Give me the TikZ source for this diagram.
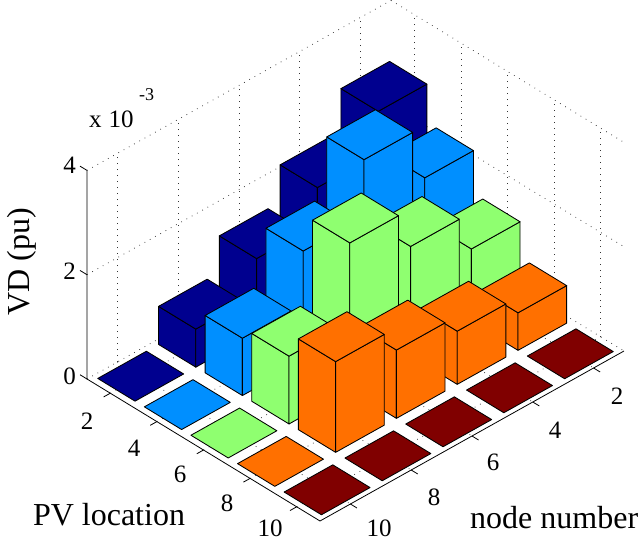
\documentclass[tikz,border=0pt]{standalone}
\usepackage{fontspec}
\setmainfont{Liberation Serif}
\definecolor{cA}{RGB}{0,0,143}
\definecolor{cB}{RGB}{0,143,255}
\definecolor{cC}{RGB}{143,255,112}
\definecolor{cD}{RGB}{255,112,0}
\definecolor{cE}{RGB}{128,0,0}
\tikzset{
  gridline/.style={black!80, line width=0.75pt, dash pattern=on 0.75pt off 5.25pt},
  axisline/.style={black, line width=0.8pt},
  baredge/.style={black, line width=0.85pt, line join=round},
  ticklab/.style={font=\fontsize{25}{28}\selectfont, inner sep=0pt},
  explab/.style={font=\fontsize{18}{20}\selectfont, inner sep=0pt},
  axlab/.style={font=\fontsize{32}{36}\selectfont, inner sep=0pt},
}
\newcommand\drawbar[4]{%
  \pgfmathsetmacro\sa{0.2*#1-0.18}%
  \pgfmathsetmacro\sb{0.2*#1-0.02}%
  \pgfmathsetmacro\ta{1.02-0.2*#2}%
  \pgfmathsetmacro\tb{1.18-0.2*#2}%
  \ifdim #3pt>0pt
    \filldraw[baredge, fill=#4] (\sa,\ta,0) -- (\sb,\ta,0) -- (\sb,\ta,#3) -- (\sa,\ta,#3) -- cycle;
    \filldraw[baredge, fill=#4] (\sb,\ta,0) -- (\sb,\tb,0) -- (\sb,\tb,#3) -- (\sb,\ta,#3) -- cycle;
  \fi
  \filldraw[baredge, fill=#4] (\sa,\ta,#3) -- (\sb,\ta,#3) -- (\sb,\tb,#3) -- (\sa,\tb,#3) -- cycle;
}
\begin{document}
\begin{tikzpicture}[x=1pt,y=-1pt]
\useasboundingbox (0,0) rectangle (638,541);
\begin{scope}[shift={(87pt,-379pt)}, x={(233pt,-142pt)}, y={(304pt,170pt)}, z={(0pt,52.15pt)}]
  % grid lines on floor and back walls
  \foreach \v in {0.1,0.3,0.5,0.7,0.9} {
    \draw[gridline] (\v,0,0) -- (\v,1,0);
    \draw[gridline] (0,\v,0) -- (1,\v,0);
    \draw[gridline] (0,\v,0) -- (0,\v,4);
    \draw[gridline] (\v,1,0) -- (\v,1,4);
  }
  \foreach \h in {0,2,4} {
    \draw[gridline] (0,0,\h) -- (0,1,\h);
    \draw[gridline] (0,1,\h) -- (1,1,\h);
  }
  % bars, back to front
  \drawbar{1}{1}{2.95}{cA}
  \drawbar{1}{2}{2.14}{cA} \drawbar{2}{1}{2.22}{cB}
  \drawbar{1}{3}{1.43}{cA} \drawbar{2}{2}{3.22}{cB} \drawbar{3}{1}{1.40}{cC}
  \drawbar{1}{4}{0.73}{cA} \drawbar{2}{3}{2.12}{cB} \drawbar{3}{2}{2.10}{cC} \drawbar{4}{1}{0.72}{cD}
  \drawbar{1}{5}{0}{cA} \drawbar{2}{4}{1.10}{cB} \drawbar{3}{3}{2.82}{cC} \drawbar{4}{2}{1.02}{cD} \drawbar{5}{1}{0}{cE}
  \drawbar{2}{5}{0}{cB} \drawbar{3}{4}{1.30}{cC} \drawbar{4}{3}{1.31}{cD} \drawbar{5}{2}{0}{cE}
  \drawbar{3}{5}{0}{cC} \drawbar{4}{4}{1.74}{cD} \drawbar{5}{3}{0}{cE}
  \drawbar{4}{5}{0}{cD} \drawbar{5}{4}{0}{cE}
  \drawbar{5}{5}{0}{cE}
  % axes
  \coordinate (ztop) at (0,0,4);
  \coordinate (orig) at (0,0,0);
  \coordinate (front) at (1,0,0);
  \coordinate (right) at (1,1,0);
  \draw[axisline] (ztop) -- (orig) -- (front) -- (right);
  \foreach \h in {0,2,4} \draw[axisline] (0,0,\h) -- (-0.03,0,\h);
  \foreach \v in {0.1,0.3,0.5,0.7,0.9} {
    \draw[axisline] (\v,0,0) -- (\v,-0.022,0);
    \draw[axisline] (1,\v,0) -- (1.028,\v,0);
  }
\end{scope}
% z tick labels
\node[ticklab, anchor=east] (z0) at (76,376) {0};
\node[ticklab, anchor=east] (z2) at (76,271) {2};
\node[ticklab, anchor=east] (z4) at (76,165) {4};
\node[ticklab, anchor=base west] (mx) at (89,127) {x\hspace{7pt}10};
\node[explab, anchor=base west] (me) at (139,100) {-3};
% PV location ticks
\node[ticklab] (p2) at (87,421) {2};
\node[ticklab] (p4) at (134,448) {4};
\node[ticklab] (p6) at (180,474) {6};
\node[ticklab] (p8) at (227,503) {8};
\node[ticklab] (p10) at (270,528) {10};
% node number ticks
\node[ticklab] (n2) at (617,396) {2};
\node[ticklab] (n4) at (555,430) {4};
\node[ticklab] (n6) at (493,462) {6};
\node[ticklab] (n8) at (434,497) {8};
\node[ticklab] (n10) at (379,528) {10};
% axis labels
\node[axlab, rotate=90] (vd) at (22,262) {VD (pu)};
\node[axlab, anchor=base] (pv) at (109,525) {PV location};
\node[axlab, anchor=base west] (nn) at (470,528) {node number};
\end{tikzpicture}
\end{document}
